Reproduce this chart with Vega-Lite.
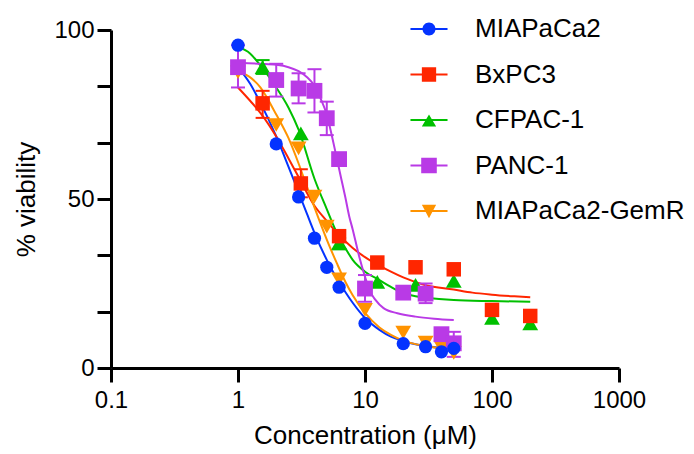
{
  "$schema": "https://vega.github.io/schema/vega-lite/v6.json",
  "width": 508,
  "height": 338,
  "autosize": {"type": "none"},
  "padding": {"left": 111, "top": 30, "right": 75, "bottom": 86},
  "background": "white",
  "config": {
    "view": {"stroke": null},
    "font": "Liberation Sans",
    "axis": {
      "domainColor": "black", "domainWidth": 3, "tickColor": "black", "tickWidth": 3, "tickSize": 14,
      "labelFont": "Liberation Sans", "labelFontSize": 24, "labelColor": "black",
      "titleFont": "Liberation Sans", "titleFontSize": 26, "titleFontWeight": "normal", "titleColor": "black",
      "grid": false
    },
    "legend": {"orient": "none", "legendX": 305, "legendY": -14, "padding": 0, "symbolSize": 169, "symbolStrokeWidth": 0, "symbolOpacity": 1,
      "labelFont": "Liberation Sans", "labelFontSize": 26, "labelColor": "black", "labelOffset": 33, "rowPadding": 19.5, "labelLimit": 400}
  },
  "datasets": {
    "pts": [
      {"series": "MIAPaCa2-GemR", "conc": 1, "viability": 87.5},
      {"series": "MIAPaCa2-GemR", "conc": 2, "viability": 71.9},
      {"series": "MIAPaCa2-GemR", "conc": 3, "viability": 65},
      {"series": "MIAPaCa2-GemR", "conc": 4, "viability": 50.7},
      {"series": "MIAPaCa2-GemR", "conc": 5, "viability": 41.8},
      {"series": "MIAPaCa2-GemR", "conc": 6.25, "viability": 26.2},
      {"series": "MIAPaCa2-GemR", "conc": 10, "viability": 17.2},
      {"series": "MIAPaCa2-GemR", "conc": 20, "viability": 10.5},
      {"series": "MIAPaCa2-GemR", "conc": 30, "viability": 7.5},
      {"series": "MIAPaCa2-GemR", "conc": 40, "viability": 6},
      {"series": "MIAPaCa2-GemR", "conc": 50, "viability": 4.5},
      {"series": "CFPAC-1", "conc": 1.5625, "viability": 89},
      {"series": "CFPAC-1", "conc": 3.125, "viability": 69.4},
      {"series": "CFPAC-1", "conc": 6.25, "viability": 37},
      {"series": "CFPAC-1", "conc": 12.5, "viability": 25.5},
      {"series": "CFPAC-1", "conc": 25, "viability": 24.6},
      {"series": "CFPAC-1", "conc": 50, "viability": 25.8},
      {"series": "CFPAC-1", "conc": 100, "viability": 14.8},
      {"series": "CFPAC-1", "conc": 200, "viability": 13.2},
      {"series": "BxPC3", "conc": 1.5625, "viability": 78.3},
      {"series": "BxPC3", "conc": 3.125, "viability": 54.6},
      {"series": "BxPC3", "conc": 6.25, "viability": 39},
      {"series": "BxPC3", "conc": 12.5, "viability": 31.2},
      {"series": "BxPC3", "conc": 25, "viability": 29.8},
      {"series": "BxPC3", "conc": 50, "viability": 29.2},
      {"series": "BxPC3", "conc": 100, "viability": 17.2},
      {"series": "BxPC3", "conc": 200, "viability": 15.4},
      {"series": "PANC-1", "conc": 1, "viability": 89},
      {"series": "PANC-1", "conc": 2, "viability": 85.2},
      {"series": "PANC-1", "conc": 3, "viability": 82.7},
      {"series": "PANC-1", "conc": 4, "viability": 82},
      {"series": "PANC-1", "conc": 5, "viability": 73.9},
      {"series": "PANC-1", "conc": 6.25, "viability": 61.8},
      {"series": "PANC-1", "conc": 10, "viability": 23.5},
      {"series": "PANC-1", "conc": 20, "viability": 22.3},
      {"series": "PANC-1", "conc": 30, "viability": 22},
      {"series": "PANC-1", "conc": 40, "viability": 10},
      {"series": "PANC-1", "conc": 50, "viability": 7.3},
      {"series": "MIAPaCa2", "conc": 1, "viability": 95.5},
      {"series": "MIAPaCa2", "conc": 2, "viability": 66.3},
      {"series": "MIAPaCa2", "conc": 3, "viability": 50.6},
      {"series": "MIAPaCa2", "conc": 4, "viability": 38.4},
      {"series": "MIAPaCa2", "conc": 5, "viability": 29.8},
      {"series": "MIAPaCa2", "conc": 6.25, "viability": 23.9},
      {"series": "MIAPaCa2", "conc": 10, "viability": 13.2},
      {"series": "MIAPaCa2", "conc": 20, "viability": 7.2},
      {"series": "MIAPaCa2", "conc": 30, "viability": 6.3},
      {"series": "MIAPaCa2", "conc": 40, "viability": 4.8},
      {"series": "MIAPaCa2", "conc": 50, "viability": 5.8}
    ],
    "fits": [
      {"series": "MIAPaCa2", "conc": 1, "viability": 89},
      {"series": "MIAPaCa2", "conc": 1.25, "viability": 84},
      {"series": "MIAPaCa2", "conc": 1.5, "viability": 78.5},
      {"series": "MIAPaCa2", "conc": 2, "viability": 68.5},
      {"series": "MIAPaCa2", "conc": 2.5, "viability": 59.5},
      {"series": "MIAPaCa2", "conc": 3, "viability": 52},
      {"series": "MIAPaCa2", "conc": 3.5, "viability": 45.5},
      {"series": "MIAPaCa2", "conc": 4, "viability": 40},
      {"series": "MIAPaCa2", "conc": 5, "viability": 32},
      {"series": "MIAPaCa2", "conc": 6, "viability": 26.5},
      {"series": "MIAPaCa2", "conc": 7, "viability": 22.5},
      {"series": "MIAPaCa2", "conc": 8, "viability": 19.3},
      {"series": "MIAPaCa2", "conc": 10, "viability": 14.8},
      {"series": "MIAPaCa2", "conc": 13, "viability": 11.3},
      {"series": "MIAPaCa2", "conc": 16, "viability": 9.3},
      {"series": "MIAPaCa2", "conc": 20, "viability": 8},
      {"series": "MIAPaCa2", "conc": 25, "viability": 7},
      {"series": "MIAPaCa2", "conc": 30, "viability": 6.5},
      {"series": "MIAPaCa2", "conc": 40, "viability": 5.9},
      {"series": "MIAPaCa2", "conc": 50, "viability": 5.6},
      {"series": "BxPC3", "conc": 1, "viability": 83},
      {"series": "BxPC3", "conc": 1.25, "viability": 79},
      {"series": "BxPC3", "conc": 1.5, "viability": 75.5},
      {"series": "BxPC3", "conc": 2, "viability": 68.5},
      {"series": "BxPC3", "conc": 2.5, "viability": 62},
      {"series": "BxPC3", "conc": 3, "viability": 56.5},
      {"series": "BxPC3", "conc": 4, "viability": 48},
      {"series": "BxPC3", "conc": 5, "viability": 43.5},
      {"series": "BxPC3", "conc": 6, "viability": 40},
      {"series": "BxPC3", "conc": 8, "viability": 35.5},
      {"series": "BxPC3", "conc": 10, "viability": 32.8},
      {"series": "BxPC3", "conc": 13, "viability": 30.3},
      {"series": "BxPC3", "conc": 16, "viability": 28.5},
      {"series": "BxPC3", "conc": 20, "viability": 26.8},
      {"series": "BxPC3", "conc": 30, "viability": 24.5},
      {"series": "BxPC3", "conc": 50, "viability": 23.2},
      {"series": "BxPC3", "conc": 70, "viability": 22.3},
      {"series": "BxPC3", "conc": 100, "viability": 21.7},
      {"series": "BxPC3", "conc": 150, "viability": 21.2},
      {"series": "BxPC3", "conc": 200, "viability": 20.9},
      {"series": "CFPAC-1", "conc": 1, "viability": 95},
      {"series": "CFPAC-1", "conc": 1.25, "viability": 93},
      {"series": "CFPAC-1", "conc": 1.5, "viability": 89.5},
      {"series": "CFPAC-1", "conc": 2, "viability": 83},
      {"series": "CFPAC-1", "conc": 2.5, "viability": 77},
      {"series": "CFPAC-1", "conc": 3, "viability": 70.5},
      {"series": "CFPAC-1", "conc": 4, "viability": 56},
      {"series": "CFPAC-1", "conc": 5, "viability": 47},
      {"series": "CFPAC-1", "conc": 6, "viability": 40},
      {"series": "CFPAC-1", "conc": 7, "viability": 35.5},
      {"series": "CFPAC-1", "conc": 8, "viability": 32},
      {"series": "CFPAC-1", "conc": 10, "viability": 28.5},
      {"series": "CFPAC-1", "conc": 13, "viability": 26},
      {"series": "CFPAC-1", "conc": 16, "viability": 24},
      {"series": "CFPAC-1", "conc": 20, "viability": 22.2},
      {"series": "CFPAC-1", "conc": 25, "viability": 21.2},
      {"series": "CFPAC-1", "conc": 30, "viability": 20.8},
      {"series": "CFPAC-1", "conc": 50, "viability": 20.1},
      {"series": "CFPAC-1", "conc": 100, "viability": 19.8},
      {"series": "CFPAC-1", "conc": 200, "viability": 19.6},
      {"series": "PANC-1", "conc": 1, "viability": 90.3},
      {"series": "PANC-1", "conc": 1.5, "viability": 90},
      {"series": "PANC-1", "conc": 2, "viability": 89.7},
      {"series": "PANC-1", "conc": 2.5, "viability": 89},
      {"series": "PANC-1", "conc": 3, "viability": 87.8},
      {"series": "PANC-1", "conc": 3.5, "viability": 86},
      {"series": "PANC-1", "conc": 4, "viability": 83.5},
      {"series": "PANC-1", "conc": 4.5, "viability": 79.5},
      {"series": "PANC-1", "conc": 5, "viability": 75},
      {"series": "PANC-1", "conc": 5.5, "viability": 68.5},
      {"series": "PANC-1", "conc": 6, "viability": 62},
      {"series": "PANC-1", "conc": 6.5, "viability": 56},
      {"series": "PANC-1", "conc": 7, "viability": 50.5},
      {"series": "PANC-1", "conc": 7.5, "viability": 45},
      {"series": "PANC-1", "conc": 8, "viability": 41},
      {"series": "PANC-1", "conc": 9, "viability": 33},
      {"series": "PANC-1", "conc": 10, "viability": 27},
      {"series": "PANC-1", "conc": 11, "viability": 22.5},
      {"series": "PANC-1", "conc": 12, "viability": 20.3},
      {"series": "PANC-1", "conc": 14, "viability": 17.7},
      {"series": "PANC-1", "conc": 18, "viability": 16.2},
      {"series": "PANC-1", "conc": 25, "viability": 15.2},
      {"series": "PANC-1", "conc": 35, "viability": 14.6},
      {"series": "PANC-1", "conc": 50, "viability": 14.2},
      {"series": "MIAPaCa2-GemR", "conc": 1, "viability": 88},
      {"series": "MIAPaCa2-GemR", "conc": 1.5, "viability": 83},
      {"series": "MIAPaCa2-GemR", "conc": 2, "viability": 75},
      {"series": "MIAPaCa2-GemR", "conc": 2.5, "viability": 68},
      {"series": "MIAPaCa2-GemR", "conc": 3, "viability": 60.5},
      {"series": "MIAPaCa2-GemR", "conc": 3.5, "viability": 53.5},
      {"series": "MIAPaCa2-GemR", "conc": 4, "viability": 47.5},
      {"series": "MIAPaCa2-GemR", "conc": 5, "viability": 38},
      {"series": "MIAPaCa2-GemR", "conc": 6, "viability": 31},
      {"series": "MIAPaCa2-GemR", "conc": 7, "viability": 25.5},
      {"series": "MIAPaCa2-GemR", "conc": 8, "viability": 21.5},
      {"series": "MIAPaCa2-GemR", "conc": 10, "viability": 16.3},
      {"series": "MIAPaCa2-GemR", "conc": 13, "viability": 12},
      {"series": "MIAPaCa2-GemR", "conc": 16, "viability": 9.8},
      {"series": "MIAPaCa2-GemR", "conc": 20, "viability": 8.1},
      {"series": "MIAPaCa2-GemR", "conc": 30, "viability": 6.5},
      {"series": "MIAPaCa2-GemR", "conc": 40, "viability": 5.8},
      {"series": "MIAPaCa2-GemR", "conc": 50, "viability": 5.5}
    ],
    "errs": [
      {"series": "PANC-1", "conc": 1, "lo": 83, "hi": 95.5},
      {"series": "PANC-1", "conc": 2, "lo": 80.3, "hi": 90},
      {"series": "PANC-1", "conc": 3, "lo": 78.3, "hi": 87.2},
      {"series": "PANC-1", "conc": 4, "lo": 75.6, "hi": 88.4},
      {"series": "PANC-1", "conc": 5, "lo": 68.9, "hi": 78.8},
      {"series": "PANC-1", "conc": 10, "lo": 19.6, "hi": 27.5},
      {"series": "PANC-1", "conc": 30, "lo": 19.2, "hi": 25},
      {"series": "PANC-1", "conc": 50, "lo": 3.3, "hi": 10.7},
      {"series": "BxPC3", "conc": 1.5625, "lo": 74, "hi": 82},
      {"series": "BxPC3", "conc": 3.125, "lo": 50.5, "hi": 58.8},
      {"series": "CFPAC-1", "conc": 1.5625, "lo": 87, "hi": 91.1},
      {"series": "CFPAC-1", "conc": 6.25, "lo": 35.1, "hi": 38.5}
    ]
  },
  "layer": [
    {
      "data": {"name": "fits"},
      "mark": {"type": "line", "strokeWidth": 2, "interpolate": "monotone"},
      "encoding": {
        "x": {"field": "conc", "type": "quantitative", "scale": {"type": "log", "domain": [0.1, 1000], "nice": false},
          "axis": {"values": [0.1, 1, 10, 100, 1000], "format": "~g", "title": "Concentration (μM)", "labelPadding": 6, "titlePadding": 10, "labelFlush": false}},
        "y": {"field": "viability", "type": "quantitative", "scale": {"domain": [0, 100], "nice": false},
          "axis": {"values": [0, 16.6667, 33.3333, 50, 66.6667, 83.3333, 100], "labelExpr": "abs(datum.value % 50) < 0.01 ? datum.label : ''", "title": "% viability", "labelPadding": 3, "titlePadding": 14}},
        "color": {"field": "series", "type": "nominal", "title": null,
          "scale": {"domain": ["MIAPaCa2", "BxPC3", "CFPAC-1", "PANC-1", "MIAPaCa2-GemR"], "range": ["#0433ff", "#ff2600", "#00c000", "#b93ae6", "#ff9300"]}},
        "detail": {"field": "series"}
      }
    },
    {
      "data": {"name": "errs"},
      "mark": {"type": "rule", "strokeWidth": 2},
      "encoding": {
        "x": {"field": "conc", "type": "quantitative"},
        "y": {"field": "lo", "type": "quantitative"},
        "y2": {"field": "hi"},
        "color": {"field": "series", "type": "nominal", "title": null}
      }
    },
    {
      "data": {"name": "errs"},
      "mark": {"type": "tick", "orient": "horizontal", "size": 14, "thickness": 2, "opacity": 1},
      "encoding": {
        "x": {"field": "conc", "type": "quantitative"},
        "y": {"field": "lo", "type": "quantitative"},
        "color": {"field": "series", "type": "nominal", "title": null}
      }
    },
    {
      "data": {"name": "errs"},
      "mark": {"type": "tick", "orient": "horizontal", "size": 14, "thickness": 2, "opacity": 1},
      "encoding": {
        "x": {"field": "conc", "type": "quantitative"},
        "y": {"field": "hi", "type": "quantitative"},
        "color": {"field": "series", "type": "nominal", "title": null}
      }
    },
    {
      "data": {"name": "pts"},
      "transform": [{"filter": "datum.series == 'MIAPaCa2-GemR'"}],
      "mark": {"type": "point", "shape": "triangle-down", "filled": true, "opacity": 1, "size": 250},
      "encoding": {
        "x": {"field": "conc", "type": "quantitative"},
        "y": {"field": "viability", "type": "quantitative"},
        "color": {"field": "series", "type": "nominal", "title": null}
      }
    },
    {
      "data": {"name": "pts"},
      "transform": [{"filter": "datum.series == 'CFPAC-1'"}],
      "mark": {"type": "point", "shape": "triangle-up", "filled": true, "opacity": 1, "size": 250},
      "encoding": {
        "x": {"field": "conc", "type": "quantitative"},
        "y": {"field": "viability", "type": "quantitative"},
        "color": {"field": "series", "type": "nominal", "title": null}
      }
    },
    {
      "data": {"name": "pts"},
      "transform": [{"filter": "datum.series == 'BxPC3'"}],
      "mark": {"type": "point", "shape": "square", "filled": true, "opacity": 1, "size": 210},
      "encoding": {
        "x": {"field": "conc", "type": "quantitative"},
        "y": {"field": "viability", "type": "quantitative"},
        "color": {"field": "series", "type": "nominal", "title": null}
      }
    },
    {
      "data": {"name": "pts"},
      "transform": [{"filter": "datum.series == 'PANC-1'"}],
      "mark": {"type": "point", "shape": "square", "filled": true, "opacity": 1, "size": 250},
      "encoding": {
        "x": {"field": "conc", "type": "quantitative"},
        "y": {"field": "viability", "type": "quantitative"},
        "color": {"field": "series", "type": "nominal", "title": null}
      }
    },
    {
      "data": {"name": "pts"},
      "transform": [{"filter": "datum.series == 'MIAPaCa2'"}],
      "mark": {"type": "point", "shape": "circle", "filled": true, "opacity": 1, "size": 175},
      "encoding": {
        "x": {"field": "conc", "type": "quantitative"},
        "y": {"field": "viability", "type": "quantitative"},
        "color": {"field": "series", "type": "nominal", "title": null}
      }
    },
    {
      "data": {"name": "pts"},
      "transform": [{"filter": "datum.conc < 0"}],
      "mark": {"type": "point", "filled": true, "opacity": 1},
      "encoding": {
        "x": {"field": "conc", "type": "quantitative"},
        "y": {"field": "viability", "type": "quantitative"},
        "color": {"field": "series", "type": "nominal", "title": null},
        "shape": {"field": "series", "type": "nominal", "title": null,
          "scale": {"domain": ["MIAPaCa2", "BxPC3", "CFPAC-1", "PANC-1", "MIAPaCa2-GemR"],
            "range": [
              "M-2.85,-0.15H2.85V0.15H-2.85Z M-1,0A1,1,0,1,1,1,0A1,1,0,1,1,-1,0Z",
              "M-2.85,-0.15H2.85V0.15H-2.85Z M-1.1,-1.1H1.1V1.1H-1.1Z",
              "M-2.85,-0.15H2.85V0.15H-2.85Z M0,-0.85L1.1,1H-1.1Z",
              "M-2.85,-0.15H2.85V0.15H-2.85Z M-1.2,-1.2H1.2V1.2H-1.2Z",
              "M-2.85,-0.15H2.85V0.15H-2.85Z M-1.1,-0.95H1.1L0,1.1Z"
            ]}}
      }
    }
  ]
}
